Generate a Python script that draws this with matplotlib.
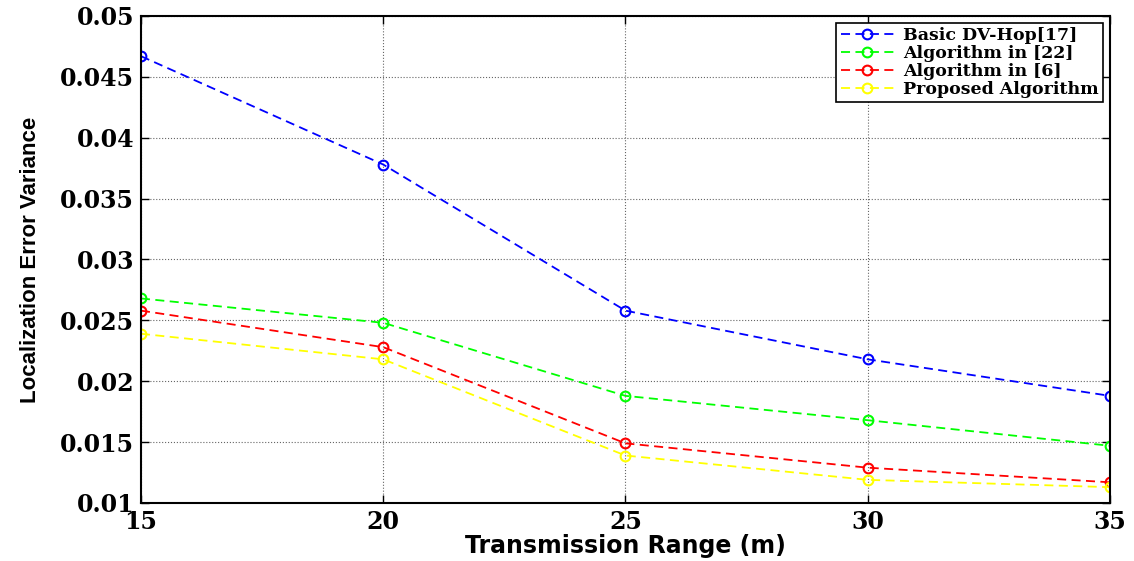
import matplotlib
matplotlib.use('Agg')
from matplotlib import pyplot as plt

ranges = [15, 20, 25, 30, 35]
dvhop = [0.0467, 0.0378, 0.0258, 0.0218, 0.0188]
alg22 = [0.0268, 0.0248, 0.0188, 0.0168, 0.0147]
alg6 = [0.0258, 0.0228, 0.0149, 0.0129, 0.0117]
proposed = [0.0239, 0.0218, 0.0139, 0.0119, 0.0113]

names = ['Basic DV-Hop[17]', 'Algorithm in [22]', 'Algorithm in [6]', 'Proposed Algorithm']
colors = ['#0000ff', '#00ff00', '#ff0000', '#ffff00']

fig = plt.figure(figsize=(11.34, 5.61), dpi=100)
ax = fig.add_axes([0.1243, 0.1034, 0.8545, 0.8681])

for vals, name, c in zip([dvhop, alg22, alg6, proposed], names, colors):
    ax.plot(ranges, vals, '--o', color=c, mfc='none', mec=c, ms=7, mew=1.5,
            lw=1.3, dashes=(5, 3), label=name)

ax.set_xlim(15, 35)
ax.set_ylim(0.01, 0.05)
ax.set_xticks(ranges)
ax.set_yticks([0.01, 0.015, 0.02, 0.025, 0.03, 0.035, 0.04, 0.045, 0.05])
ax.set_yticklabels(['0.01', '0.015', '0.02', '0.025', '0.03', '0.035', '0.04', '0.045', '0.05'])
ax.grid(True, color='#666666', linestyle=':', linewidth=0.8)
ax.tick_params(direction='in', length=6, width=1, top=True, right=True)
ax.tick_params(axis='x', pad=5)
ax.tick_params(axis='y', pad=5)
for lab in ax.get_xticklabels() + ax.get_yticklabels():
    lab.set_fontfamily('DejaVu Serif')
    lab.set_fontweight('bold')
    lab.set_fontsize(17)
for s in ax.spines.values():
    s.set_linewidth(1.5)

ax.set_xlabel('Transmission Range (m)', fontfamily='DejaVu Sans', fontweight='bold',
              fontsize=17, labelpad=0)
ax.set_ylabel('Localization Error Variance', fontfamily='Liberation Sans', fontweight='bold',
              fontsize=16, labelpad=14)

leg = ax.legend(loc='upper right', prop={'family': 'DejaVu Serif', 'weight': 'bold', 'size': 12.5},
                fancybox=False, edgecolor='black', framealpha=1, borderpad=0.25,
                labelspacing=0.05, handlelength=3.1, handletextpad=0.5, borderaxespad=0.4)
leg.get_frame().set_linewidth(1.2)

fig.savefig('out.png', dpi=100)
